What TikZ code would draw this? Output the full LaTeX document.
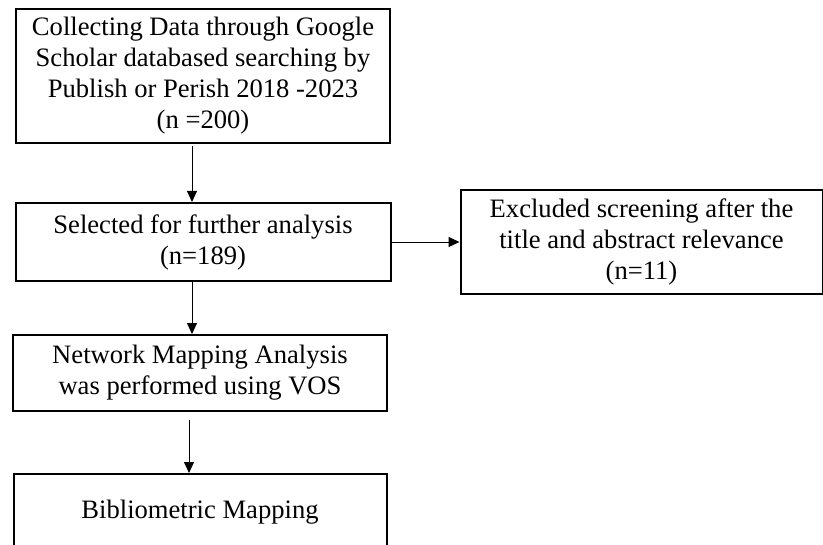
\documentclass[tikz,border=0pt]{standalone}
\usepackage{fontspec}
\setmainfont{Liberation Serif}
\usetikzlibrary{positioning,arrows.meta}

\tikzset{
  stage/.style={draw, line width=1pt, align=center, inner sep=2pt,
    font=\fontsize{13.3}{15.5}\selectfont},
  flow/.style={-{Triangle[length=5.5pt,width=5pt]}, line width=0.5pt}
}

\begin{document}
\begin{tikzpicture}
  \useasboundingbox (0,0) rectangle (411.5pt,-272.5pt);
  %
  \node [stage, minimum width=187pt, minimum height=67pt] (collect) at (101.5pt,-38pt)
    {Collecting Data through Google\\Scholar databased searching by\\Publish or Perish 2018 -2023\\(n =200)};
  \node [stage, minimum width=187.5pt, minimum height=39pt, below=29pt of collect] (select)
    {Selected for further analysis\\(n=189)};
  \node [stage, minimum width=181pt, minimum height=52pt, right=34pt of select] (excl)
    {Excluded screening after the\\title and abstract relevance\\(n=11)};
  \node [stage, minimum width=187pt, minimum height=38pt, below=26pt of select, xshift=-1.5pt] (vos)
    {Network Mapping Analysis\\was performed using VOS};
  \node [stage, minimum width=186.5pt, minimum height=38pt, below=30.5pt of vos] (biblio)
    {Bibliometric Mapping};
  %
  \draw [flow] ([xshift=-5.5pt,yshift=-1pt]collect.south) -- ([xshift=-5.5pt]select.north);
  \draw [flow] (select.east) -- (excl.west);
  \draw [flow] ([xshift=-5.5pt]select.south) -- ([xshift=-4pt]vos.north);
  \draw [flow] ([xshift=-5.5pt,yshift=-4pt]vos.south) -- ([xshift=-5.5pt]biblio.north);
\end{tikzpicture}
\end{document}
